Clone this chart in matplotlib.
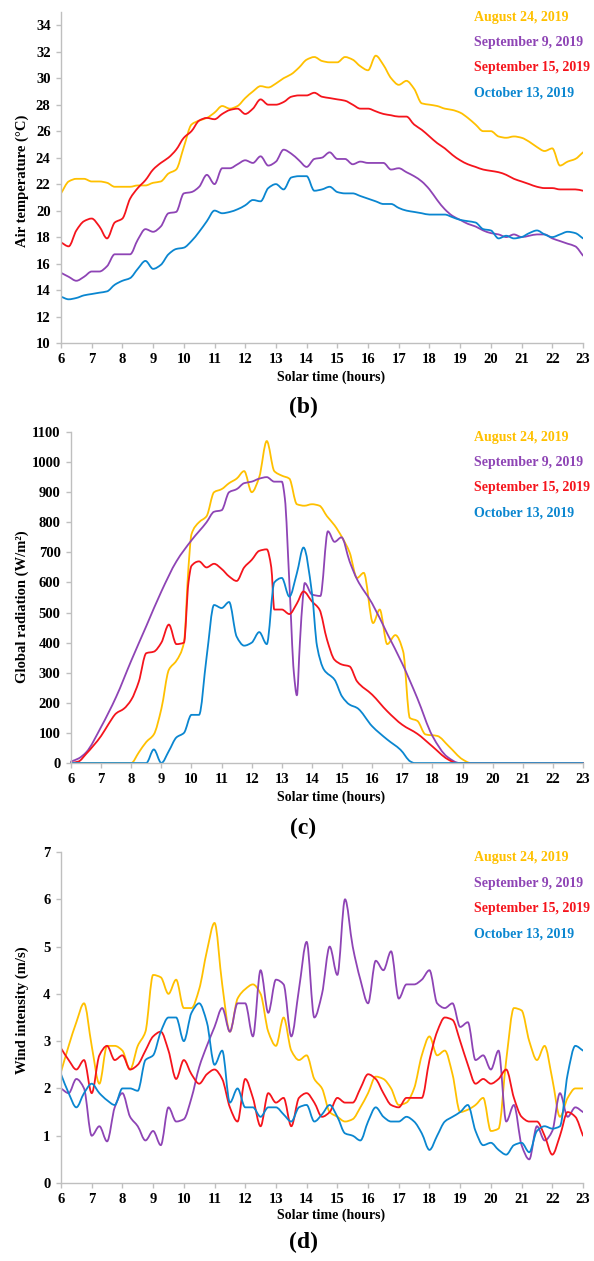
import numpy as np
import matplotlib
matplotlib.use("Agg")
import matplotlib.pyplot as plt
from matplotlib.path import Path
from matplotlib.patches import PathPatch

plt.rcParams['font.family'] = ['Liberation Serif', 'DejaVu Serif']
plt.rcParams['font.weight'] = 'bold'

# ---------------- data ----------------
series_names = ["August 24, 2019", "September 9, 2019", "September 15, 2019", "October 13, 2019"]
series_colors = ["#FFC000", "#8E44B5", "#F5141C", "#0A86D0"]

hour_ticks = list(range(6, 24))
quarter_hours = [6 + 0.25 * i for i in range(69)]

# Air temperature (°C) at quarter-hour steps 6:00 .. 23:00
temp_aug24 = [21.3, 22.2, 22.4, 22.4, 22.2, 22.2, 22.1, 21.8, 21.8, 21.8, 21.9, 21.9,
              22.1, 22.2, 22.8, 23.1, 24.8, 26.5, 26.8, 27.0, 27.4, 27.9, 27.7, 27.9,
              28.5, 29.0, 29.4, 29.3, 29.6, 30.0, 30.3, 30.8, 31.4, 31.6, 31.3, 31.2,
              31.2, 31.6, 31.4, 30.9, 30.6, 31.7, 31.0, 30.0, 29.5, 29.8, 29.2, 28.1,
              28.0, 27.9, 27.7, 27.6, 27.4, 27.0, 26.5, 26.0, 26.0, 25.6, 25.5, 25.6,
              25.5, 25.2, 24.8, 24.5, 24.7, 23.4, 23.7, 23.9, 24.4]
temp_sep09 = [15.3, 15.0, 14.7, 15.0, 15.4, 15.4, 15.8, 16.7, 16.7, 16.7, 17.8, 18.6,
              18.4, 18.8, 19.8, 19.9, 21.3, 21.4, 21.8, 22.7, 22.0, 23.2, 23.2, 23.5,
              23.8, 23.6, 24.1, 23.4, 23.7, 24.6, 24.3, 23.8, 23.3, 23.9, 24.0, 24.4,
              23.9, 23.9, 23.5, 23.7, 23.6, 23.6, 23.6, 23.1, 23.2, 22.9, 22.6, 22.2,
              21.6, 20.8, 20.1, 19.6, 19.3, 19.0, 18.8, 18.5, 18.3, 18.2, 18.0, 18.2,
              18.0, 18.1, 18.2, 18.2, 17.9, 17.7, 17.5, 17.3, 16.6]
temp_sep15 = [17.6, 17.3, 18.5, 19.2, 19.4, 18.8, 17.9, 19.1, 19.4, 20.9, 21.7, 22.3,
              23.1, 23.6, 24.0, 24.6, 25.5, 26.0, 26.8, 27.0, 26.9, 27.3, 27.6, 27.7,
              27.3, 27.7, 28.4, 28.0, 28.0, 28.2, 28.6, 28.7, 28.7, 28.9, 28.6, 28.5,
              28.4, 28.3, 28.0, 27.7, 27.7, 27.5, 27.3, 27.2, 27.1, 27.1, 26.5, 26.1,
              25.6, 25.1, 24.7, 24.2, 23.8, 23.5, 23.3, 23.1, 23.0, 22.9, 22.7, 22.4,
              22.2, 22.0, 21.8, 21.7, 21.7, 21.6, 21.6, 21.6, 21.5]
temp_oct13 = [13.5, 13.3, 13.4, 13.6, 13.7, 13.8, 13.9, 14.4, 14.7, 14.9, 15.6, 16.2,
              15.6, 15.9, 16.7, 17.1, 17.2, 17.7, 18.4, 19.2, 20.0, 19.8, 19.9, 20.1,
              20.4, 20.8, 20.7, 21.7, 22.0, 21.6, 22.5, 22.6, 22.6, 21.5, 21.6, 21.8,
              21.4, 21.3, 21.3, 21.1, 20.9, 20.7, 20.5, 20.5, 20.2, 20.0, 19.9, 19.8,
              19.7, 19.7, 19.7, 19.5, 19.3, 19.2, 19.1, 18.6, 18.5, 17.9, 18.1, 17.9,
              18.0, 18.3, 18.5, 18.2, 18.0, 18.2, 18.4, 18.3, 17.9]

# Global radiation (W/m2)
rad_aug24_t = [6, 8.0, 8.25, 8.5, 8.75, 9.0, 9.25, 9.5, 9.75, 9.9, 10.0, 10.25, 10.5, 10.75,
               11.0, 11.25, 11.5, 11.75, 12.0, 12.25, 12.5, 12.75, 13.0, 13.25, 13.5, 13.75,
               14.0, 14.25, 14.5, 14.75, 15.0, 15.25, 15.5, 15.72, 16.03, 16.25, 16.5, 16.77,
               17.03, 17.25, 17.5, 17.77, 18.16, 18.55, 19.0, 19.27, 23]
rad_aug24 = [0, 0, 35, 70, 95, 180, 310, 340, 400, 650, 760, 800, 820, 900,
             910, 930, 945, 970, 900, 950, 1070, 970, 955, 945, 860, 855,
             860, 855, 820, 790, 750, 700, 615, 632, 465, 510, 395, 425,
             370, 150, 140, 95, 90, 55, 12, 0, 0]
rad_sep09_t = [6, 6.25, 6.5, 7, 7.5, 8, 8.5, 9, 9.5, 10, 10.5, 10.75, 11, 11.25, 11.5, 11.75,
               12, 12.25, 12.5, 12.75, 13.0, 13.1, 13.25, 13.4, 13.5, 13.6, 13.7, 13.76,
               14.0, 14.28, 14.53, 14.75, 14.98, 15.25, 15.5, 16, 16.5, 17, 17.5, 18, 18.5,
               18.9, 23]
rad_sep09 = [5, 15, 35, 120, 220, 340, 455, 570, 670, 740, 800, 835, 840, 900, 910, 930,
             935, 945, 950, 935, 935, 880, 600, 300, 225, 400, 550, 598,
             560, 555, 770, 735, 750, 670, 610, 530, 430, 330, 215, 90, 20,
             0, 0]
rad_sep15_t = [6, 6.25, 6.5, 7, 7.25, 7.5, 7.75, 8, 8.25, 8.5, 8.75, 9, 9.25, 9.5, 9.75, 9.9,
               10, 10.25, 10.5, 10.75, 11, 11.25, 11.5, 11.75, 12, 12.25, 12.5, 12.65, 12.75,
               13, 13.25, 13.5, 13.72, 14, 14.25, 14.5, 14.75, 15, 15.25, 15.5, 16, 16.5, 17,
               17.5, 18, 18.5, 18.8, 23]
rad_sep15 = [0, 5, 30, 90, 130, 165, 180, 210, 270, 365, 370, 400, 460, 395, 400, 600,
             655, 670, 650, 662, 645, 620, 605, 650, 675, 705, 710, 650, 510,
             510, 495, 530, 570, 537, 510, 410, 343, 327, 321, 271, 227, 172, 127,
             97, 55, 13, 0, 0]
rad_oct13_t = [6, 8.5, 8.75, 9.0, 9.25, 9.5, 9.75, 10, 10.25, 10.5, 10.75, 11, 11.25, 11.5,
               11.75, 12, 12.25, 12.5, 12.75, 13, 13.25, 13.5, 13.72, 14, 14.17, 14.4, 14.75,
               15, 15.25, 15.5, 16, 16.5, 16.94, 17.27, 17.4, 23]
rad_oct13 = [0, 0, 45, 0, 40, 85, 100, 160, 160, 350, 525, 515, 535, 420,
             390, 400, 435, 395, 600, 615, 553, 631, 716, 565, 388, 310, 277,
             221, 194, 183, 122, 78, 44, 5, 0, 0]

# Wind intensity (m/s) at quarter-hour steps 6:00 .. 23:00
wind_aug24 = [2.35, 2.9, 3.4, 3.8, 2.9, 2.1, 2.9, 2.9, 2.8, 2.4, 2.9, 3.2,
              4.4, 4.35, 4.0, 4.3, 3.7, 3.7, 4.1, 4.9, 5.5, 4.2, 3.2, 3.9,
              4.1, 4.2, 4.0, 3.2, 2.9, 3.5, 2.8, 2.6, 2.7, 2.2, 2.0, 1.5,
              1.4, 1.3, 1.35, 1.6, 1.9, 2.25, 2.2, 2.0, 1.65, 1.7, 2.0, 2.7,
              3.1, 2.7, 2.8, 2.3, 1.5, 1.55, 1.65, 1.8, 1.1, 1.15, 2.6, 3.7,
              3.65, 3.0, 2.6, 2.9, 2.2, 1.4, 1.8, 2.0, 2.0]
wind_sep09 = [2.0, 1.9, 2.2, 2.0, 1.0, 1.2, 0.88, 1.6, 1.9, 1.4, 1.2, 0.9,
              1.1, 0.8, 1.6, 1.3, 1.35, 1.8, 2.45, 2.9, 3.3, 3.7, 3.2, 3.8,
              3.8, 3.1, 4.5, 3.6, 4.3, 4.2, 3.1, 4.1, 5.1, 3.5, 4.0, 5.0,
              4.4, 6.0, 5.0, 4.3, 3.8, 4.7, 4.5, 4.9, 3.9, 4.2, 4.2, 4.3,
              4.5, 3.8, 3.7, 3.8, 3.3, 3.4, 2.6, 2.7, 2.4, 2.8, 1.3, 1.65,
              0.8, 0.5, 1.2, 0.9, 1.1, 1.9, 1.4, 1.6, 1.5]
wind_sep15 = [2.85, 2.6, 2.4, 2.6, 1.9, 2.7, 2.9, 2.6, 2.7, 2.4, 2.5, 2.8,
              3.1, 3.2, 2.8, 2.2, 2.6, 2.3, 2.1, 2.3, 2.4, 2.2, 1.6, 1.3,
              2.2, 1.8, 1.2, 1.9, 1.7, 1.8, 1.2, 1.8, 1.9, 1.7, 1.4, 1.5,
              1.8, 1.7, 1.7, 2.0, 2.3, 2.2, 1.9, 1.65, 1.6, 1.8, 1.8, 1.8,
              2.6, 3.2, 3.5, 3.45, 3.0, 2.5, 2.1, 2.2, 2.1, 2.2, 2.4, 1.8,
              1.4, 1.3, 1.3, 1.0, 0.6, 1.0, 1.5, 1.4, 1.0]
wind_oct13 = [2.3, 1.9, 1.6, 1.9, 2.1, 1.9, 1.75, 1.65, 2.0, 2.0, 1.95, 2.6,
              2.7, 3.2, 3.5, 3.5, 3.0, 3.6, 3.8, 3.4, 2.5, 2.8, 1.7, 2.0,
              1.6, 1.6, 1.4, 1.6, 1.6, 1.45, 1.3, 1.6, 1.65, 1.3, 1.45, 1.65,
              1.4, 1.05, 1.0, 0.9, 1.3, 1.6, 1.4, 1.3, 1.3, 1.4, 1.3, 1.05,
              0.7, 1.0, 1.3, 1.4, 1.5, 1.65, 1.1, 0.8, 0.85, 0.7, 0.6, 0.8,
              0.85, 0.65, 1.1, 1.2, 1.15, 1.2, 2.3, 2.9, 2.8]

# ---------------- figure ----------------
W, H = 594, 1261
fig = plt.figure(figsize=(W / 100, H / 100), dpi=100)


def axpos(l, t, r, b):
    return [l / W, 1 - b / H, (r - l) / W, (b - t) / H]


def ftext(x, y, s, **kw):
    fig.text(x / W, 1 - y / H, s, **kw)


def smooth_line(ax, xs, ys, color, lw, clip=True):
    """Draw a smoothed line (cubic Bezier through every data point, like a
    spreadsheet 'smoothed line'); tangents are shape-preserving so the curve
    never overshoots between points."""
    x = np.asarray(xs, float)
    y = np.asarray(ys, float)
    h = np.diff(x)
    d = np.diff(y) / h
    n = len(x)
    m = np.zeros(n)
    for k in range(1, n - 1):
        if d[k - 1] * d[k] > 0:
            w1 = 2 * h[k] + h[k - 1]
            w2 = h[k] + 2 * h[k - 1]
            m[k] = (w1 + w2) / (w1 / d[k - 1] + w2 / d[k])
    m[0] = d[0] if n > 1 else 0
    m[-1] = d[-1] if n > 1 else 0
    verts = [(x[0], y[0])]
    codes = [Path.MOVETO]
    for k in range(n - 1):
        verts += [(x[k] + h[k] / 3, y[k] + m[k] * h[k] / 3),
                  (x[k + 1] - h[k] / 3, y[k + 1] - m[k + 1] * h[k] / 3),
                  (x[k + 1], y[k + 1])]
        codes += [Path.CURVE4] * 3
    patch = PathPatch(Path(verts, codes), facecolor="none", edgecolor=color,
                      lw=lw, capstyle="round", joinstyle="round", clip_on=clip)
    ax.add_patch(patch)


SPINE = "#BFBFBF"


def style(ax, ylim, yticks):
    ax.set_xlim(6, 23)
    ax.set_ylim(*ylim)
    ax.set_xticks(hour_ticks)
    ax.set_yticks(yticks)
    for s in ("top", "right"):
        ax.spines[s].set_visible(False)
    for s in ("left", "bottom"):
        ax.spines[s].set_color(SPINE)
        ax.spines[s].set_linewidth(1.0)
    ax.tick_params(axis="both", colors=SPINE, length=3.5, width=1.0, direction="out",
                   labelcolor="black", labelsize=10.5)
    ax.tick_params(axis="x", pad=4)
    ax.tick_params(axis="y", pad=4)
    for lab in ax.get_xticklabels() + ax.get_yticklabels():
        lab.set_fontweight("bold")
    ax.set_facecolor("none")


LW = 1.3

# Panel 1: temperature
ax1 = fig.add_axes(axpos(61, 12, 583, 343))
for ys, c in zip([temp_aug24, temp_sep09, temp_sep15, temp_oct13], series_colors):
    smooth_line(ax1, quarter_hours, ys, c, LW)
style(ax1, (10, 35), list(range(10, 35, 2)))

# Panel 2: radiation
ax2 = fig.add_axes(axpos(71, 432, 583, 763))
for ts, ys, c in zip([rad_aug24_t, rad_sep09_t, rad_sep15_t, rad_oct13_t],
                     [rad_aug24, rad_sep09, rad_sep15, rad_oct13], series_colors):
    smooth_line(ax2, ts, ys, c, LW, clip=False)
style(ax2, (0, 1100), list(range(0, 1101, 100)))

# Panel 3: wind
ax3 = fig.add_axes(axpos(61, 852, 583, 1183))
for ys, c in zip([wind_aug24, wind_sep09, wind_sep15, wind_oct13], series_colors):
    smooth_line(ax3, quarter_hours, ys, c, LW)
style(ax3, (0, 7), list(range(0, 8)))

# axis titles
ylabels = ["Air temperature (\u00b0C)", "Global radiation (W/m\u00b2)", "Wind intensity (m/s)"]
ylab_y = [181, 607, 1010]
xlab_y = [377, 797, 1215]
letter_y = [407, 828, 1242]
letters = ["(b)", "(c)", "(d)"]
legend_y0 = [17, 437, 858]

for i in range(3):
    ftext(22, ylab_y[i], ylabels[i], rotation=90, ha="center", va="center",
          fontsize=10.5, fontweight="bold")
    ftext(331, xlab_y[i], "Solar time (hours)", ha="center", va="center",
          fontsize=10, fontweight="bold")
    ftext(303, letter_y[i], letters[i], ha="center", va="center",
          fontsize=17, fontweight="bold")
    for k, (name, c) in enumerate(zip(series_names, series_colors)):
        ftext(474, legend_y0[i] + k * 25.3, name, ha="left", va="center",
              fontsize=10, fontweight="bold", color=c)

fig.savefig("out.png", dpi=100)
